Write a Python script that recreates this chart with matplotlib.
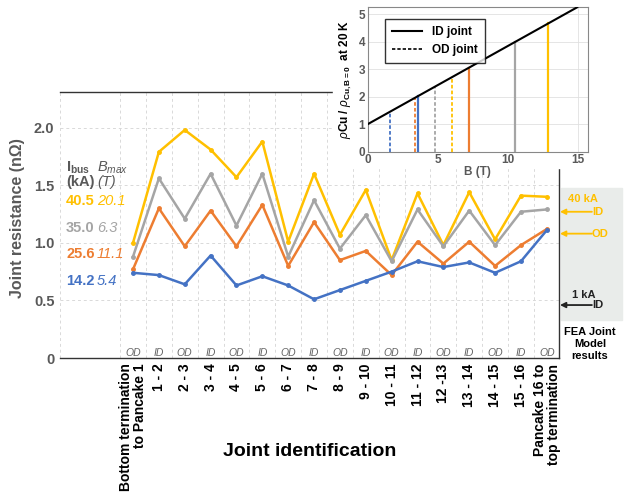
import matplotlib.pyplot as plt
import matplotlib.patches as mpatches
import numpy as np

plt.rcParams["font.family"] = ["Liberation Sans", "DejaVu Sans"]
plt.rcParams["mathtext.fontset"] = "custom"
plt.rcParams["mathtext.rm"] = "Liberation Sans"
plt.rcParams["mathtext.it"] = "Liberation Sans:italic"
plt.rcParams["mathtext.bf"] = "Liberation Sans:bold"

joints = ["Bottom termination\nto Pancake 1", "1 - 2", "2 - 3", "3 - 4", "4 - 5", "5 - 6",
          "6 - 7", "7 - 8", "8 - 9", "9 - 10", "10 - 11", "11 - 12", "12 -13", "13 - 14",
          "14 - 15", "15 - 16", "Pancake 16 to\ntop termination"]
joint_type = ["OD", "ID"] * 8 + ["OD"]

r_40 = [1.00, 1.79, 1.98, 1.81, 1.57, 1.88, 1.01, 1.60, 1.07, 1.46, 0.85, 1.43, 0.98, 1.44, 1.03, 1.41, 1.40]
r_35 = [0.88, 1.56, 1.21, 1.60, 1.15, 1.60, 0.88, 1.37, 0.95, 1.24, 0.84, 1.29, 0.97, 1.28, 0.98, 1.27, 1.29]
r_26 = [0.77, 1.30, 0.97, 1.28, 0.97, 1.33, 0.80, 1.18, 0.85, 0.93, 0.72, 1.01, 0.82, 1.01, 0.80, 0.98, 1.12]
r_14 = [0.74, 0.72, 0.64, 0.89, 0.63, 0.71, 0.63, 0.51, 0.59, 0.67, 0.75, 0.84, 0.79, 0.83, 0.74, 0.84, 1.11]

i_bus = ["40.5", "35.0", "25.6", "14.2"]
b_max = ["20.1", "6.3", "11.1", "5.4"]
colors = ["#FFC000", "#A5A5A5", "#ED7D31", "#4472C4"]
label_y = [1.36, 1.13, 0.90, 0.67]

# FEA model results (right panel)
fea_40_id, fea_40_od, fea_1_id = 1.27, 1.08, 0.46

# inset: rho ratio vs field
b_line = [0, 14.95]
rho_line = [1.0, 5.25]
b_solid = [3.6, 7.25, 10.5, 12.9]     # blue, orange, gray, yellow (ID)
b_dashed = [1.6, 3.35, 4.8, 6.0]      # blue, orange, gray, yellow (OD)
inset_colors = ["#4472C4", "#ED7D31", "#A5A5A5", "#FFC000"]

def rho(b):
    return rho_line[0] + (rho_line[1] - rho_line[0]) / (b_line[1] - b_line[0]) * b

fig = plt.figure(figsize=(6.27, 4.93), dpi=100)
# gray background of the FEA panel, behind everything
fig.patches.append(mpatches.Rectangle((561 / 627, 1 - 320 / 493), 61 / 627, 132 / 493,
                                      transform=fig.transFigure, color="#E9ECEA", zorder=-5))
ax = fig.add_axes([0.0957, 0.2738, 0.7958, 0.5396])
ax.patch.set_alpha(0)

x = np.arange(len(joints))
for vals, c in zip([r_40, r_35, r_26, r_14], colors):
    ax.plot(x, vals, color=c, lw=1.8, marker="o", ms=2.5, zorder=3)

ax.set_xlim(-2.823, 16.47)
ax.set_ylim(0, 2.31)
ax.set_yticks([0, 0.5, 1.0, 1.5, 2.0])
ax.set_yticklabels(["0", "0.5", "1.0", "1.5", "2.0"], fontweight="bold", color="#595959", fontsize=10.5)
ax.tick_params(axis="y", length=0, pad=4)
ax.set_xticks(x)
ax.set_xticklabels(joints, rotation=90, fontweight="bold", fontsize=10, va="top",
                   ha="center", multialignment="right", linespacing=1.0)
ax.tick_params(axis="x", length=0, pad=4)
for xb in np.arange(-0.5, 16.5, 1.0):
    ax.axvline(xb, color="#d9d9d9", lw=0.7, ls=(0, (3, 3)), zorder=1)
for yv in [0.5, 1.0, 1.5, 2.0]:
    ax.axhline(yv, color="#d9d9d9", lw=0.7, ls=(0, (3, 3)), zorder=1)
ax.axvline(-2.823, color="#d9d9d9", lw=0.7, ls=(0, (3, 3)), zorder=1)

ax.spines["left"].set_visible(False)
for s in ["top", "bottom", "right"]:
    ax.spines[s].set_color("#333333")
    ax.spines[s].set_linewidth(1.0)

fig.text(18 / 627, 1 - 218 / 493, "Joint resistance (nΩ)", rotation=90, ha="center", va="center",
         fontweight="bold", color="#595959", fontsize=11.5)
fig.text(310 / 627, 1 - 452 / 493, "Joint identification", ha="center", va="center",
         fontweight="bold", fontsize=14)

for xi, t in zip(x, joint_type):
    ax.text(xi, 0.045, t, ha="center", va="center", style="italic", color="#666666", fontsize=7.5)

# left text legend
ax.text(-2.59, 1.655, r"I$_{\mathbf{bus}}$", fontweight="bold", color="#595959", fontsize=10.5, va="center")
ax.text(-2.59, 1.525, "(kA)", fontweight="bold", color="#595959", fontsize=10.5, va="center")
ax.text(-1.39, 1.655, r"$B_{max}$", color="#595959", fontsize=10.5, va="center")
ax.text(-1.39, 1.525, "(T)", style="italic", color="#595959", fontsize=10.5, va="center")
for ib, bm, c, yy in zip(i_bus, b_max, colors, label_y):
    ax.text(-2.59, yy, ib, fontweight="bold", color=c, fontsize=10.5, va="center")
    ax.text(-1.39, yy, bm, style="italic", color=c, fontsize=10.5, va="center")

# right panel: FEA results
yel = "#FFC000"
ax.text(1.018, 1.38, "40 kA", transform=ax.get_yaxis_transform(), color=yel,
        fontweight="bold", fontsize=8, va="center", clip_on=False)
for yv, lab, c in [(fea_40_id, "ID", yel), (fea_40_od, "OD", yel), (fea_1_id, "ID", "#222222")]:
    ax.annotate("", xy=(1.002, yv), xycoords=ax.get_yaxis_transform(),
                xytext=(1.066, yv), textcoords=ax.get_yaxis_transform(),
                arrowprops=dict(arrowstyle="-|>", color=c, lw=1.3, mutation_scale=8,
                                shrinkA=0, shrinkB=0))
    ax.text(1.066, yv, lab, transform=ax.get_yaxis_transform(), color=c,
            fontweight="bold", fontsize=8, va="center", clip_on=False)
ax.text(1.026, 0.55, "1 kA", transform=ax.get_yaxis_transform(), color="#222222",
        fontweight="bold", fontsize=8, va="center", clip_on=False)
ax.text(1.062, 0.12, "FEA Joint\nModel\nresults", transform=ax.get_yaxis_transform(),
        ha="center", va="center", fontweight="bold", fontsize=8, linespacing=1.25, clip_on=False)

# white area behind inset
fig.patches.append(mpatches.Rectangle((333 / 627, 1 - 168 / 493), 294 / 627, 168 / 493,
                                      transform=fig.transFigure, color="white", zorder=1))

ins = fig.add_axes([0.5864, 0.6923, 0.3509, 0.2929], zorder=2)
ins.plot(b_line, rho_line, color="black", lw=1.5, zorder=4)
for b, c in zip(b_solid, inset_colors):
    ins.plot([b, b], [0, rho(b)], color=c, lw=1.6, zorder=3)
for b, c in zip(b_dashed, inset_colors):
    ins.plot([b, b], [0, rho(b)], color=c, lw=1.3, ls=(0, (2, 1.2)), zorder=3)
ins.plot([], [], color="black", lw=1.5, label="ID joint")
ins.plot([], [], color="black", lw=1.2, ls=(0, (2, 1.2)), label="OD joint")
ins.set_xlim(0, 15.7)
ins.set_ylim(0, 5.25)
ins.set_xticks([0, 5, 10, 15])
ins.set_yticks([0, 1, 2, 3, 4, 5])
ins.tick_params(length=0, labelsize=8.5, labelcolor="#595959", pad=2)
for lab in ins.get_xticklabels() + ins.get_yticklabels():
    lab.set_fontweight("bold")
ins.grid(axis="y", color="#e0e0e0", lw=0.6)
ins.axvline(15, color="#e0e0e0", lw=0.6)
for s in ins.spines.values():
    s.set_color("#888888")
    s.set_linewidth(0.8)
ins.set_xlabel("B (T)", fontweight="bold", color="#595959", fontsize=8.5, labelpad=0)
ins.set_ylabel(r"$\rho$Cu / $\rho_{\mathbf{Cu,B=0}}$  at 20 K", fontweight="bold", fontsize=8.5, labelpad=3)
leg = ins.legend(loc="upper left", bbox_to_anchor=(0.05, 0.96), fontsize=8.5, frameon=True,
                 fancybox=False, edgecolor="black", handlelength=2.6, borderpad=0.6)
leg.get_frame().set_linewidth(1.0)
for t in leg.get_texts():
    t.set_fontweight("bold")

fig.savefig("out.png", dpi=100)
